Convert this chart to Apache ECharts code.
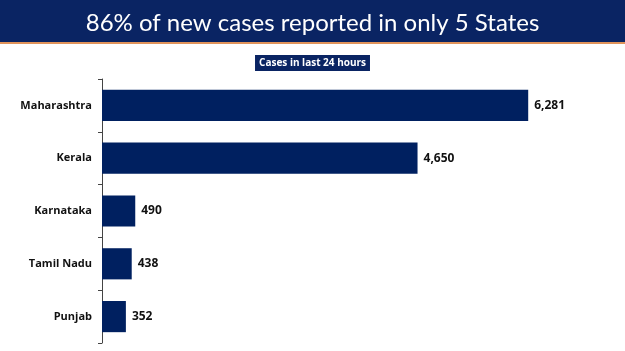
<!DOCTYPE html>
<html><head><meta charset="utf-8">
<script src="https://cdn.jsdelivr.net/npm/echarts@6/dist/echarts.min.js"></script>
<style>html,body{margin:0;padding:0;background:#fff}#c{width:625px;height:351px}</style>
</head><body><div id="c"></div>
<script>
const categories = ['Maharashtra','Kerala','Karnataka','Tamil Nadu','Punjab'];
const cases = [6281, 4650, 490, 438, 352];
const chart = echarts.init(document.getElementById('c'));
chart.setOption({
  animation:false,
  graphic:[
    {type:'rect',shape:{x:0,y:0,width:625,height:42},style:{fill:'#0a2463'},z:-1},
    {type:'rect',shape:{x:0,y:42,width:625,height:2},style:{fill:'#e0935a'},z:-1}
  ],
  title:[
    {text:'86% of new cases reported in only 5 States',left:'center',top:6,
     textStyle:{color:'#fff',fontSize:24,fontWeight:'normal',fontFamily:'Lato'}},
    {text:'Cases in last 24 hours',left:'center',top:55,padding:[2,4,2,4],backgroundColor:'#0a2463',
     textStyle:{color:'#fff',fontSize:10,fontWeight:'bold',fontFamily:'Open Sans',lineHeight:12}}
  ],
  grid:{left:102,right:48,top:79,bottom:8},
  xAxis:{type:'value',min:0,max:7000,show:false},
  yAxis:{type:'category',data:categories,inverse:true,
    axisLine:{lineStyle:{color:'#444'}},
    axisTick:{show:true,length:4,lineStyle:{color:'#444'}},
    axisLabel:{color:'#111',fontWeight:'bold',fontSize:11,fontFamily:'Open Sans',margin:10}},
  series:[{type:'bar',data:cases,barCategoryGap:'41%',itemStyle:{color:'#002060'},
    label:{show:true,position:'right',distance:6,color:'#111',fontWeight:'bold',fontSize:12,fontFamily:'Open Sans',
      formatter:p=>p.value.toLocaleString('en-US')}}]
});
</script></body></html>
